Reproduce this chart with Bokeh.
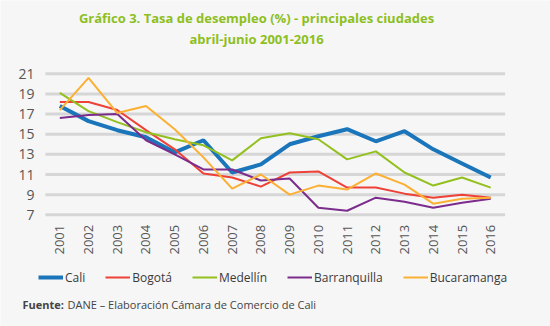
from bokeh.plotting import figure
from bokeh.models import Range1d, Label, Legend, LegendItem, ColumnDataSource
from bokeh.core.properties import value
from bokeh.embed import file_html
from bokeh.resources import INLINE
import math

years = list(range(2001, 2017))
cali = [17.8, 16.3, 15.4, 14.7, 13.2, 14.4, 11.2, 12.0, 14.0, 14.8, 15.5, 14.3, 15.3, 13.5, 12.1, 10.7]
bogota = [18.2, 18.2, 17.4, 15.4, 13.5, 11.1, 10.7, 9.8, 11.2, 11.3, 9.7, 9.7, 9.1, 8.7, 9.0, 8.7]
medellin = [19.1, 17.3, 16.2, 15.2, 14.5, 13.9, 12.4, 14.6, 15.1, 14.5, 12.5, 13.3, 11.2, 9.9, 10.7, 9.7]
barranquilla = [16.6, 16.9, 17.0, 14.4, 13.0, 11.5, 11.5, 10.4, 10.6, 7.7, 7.4, 8.7, 8.3, 7.7, 8.2, 8.6]
bucaramanga = [17.4, 20.6, 17.1, 17.8, 15.5, 12.7, 9.6, 11.0, 9.0, 9.9, 9.5, 11.1, 10.0, 8.1, 8.6, 8.7]
y_ticks = [7, 9, 11, 13, 15, 17, 19, 21]
x_labels = [str(y) for y in years]
y_labels = [str(t) for t in y_ticks]

series = [
    ("Cali", cali, "#1b75bb", 4),
    ("Bogotá", bogota, "#ee4137", 2),
    ("Medellín", medellin, "#93c01f", 2),
    ("Barranquilla", barranquilla, "#7b2c8c", 2),
    ("Bucaramanga", bucaramanga, "#fbb033", 2),
]

BG = "#f6f6f6"
FONT = "Open Sans"

# the plotting frame covers the whole page; ranges set so that the grid sits where the reference has it
p = figure(width=550, height=326, x_range=Range1d(1998.936, 2018.08), y_range=Range1d(-4.094, 28.279),
           output_backend="svg", toolbar_location=None, min_border=0,
           x_axis_type=None, y_axis_type=None, title=None)
p.background_fill_color = BG
p.border_fill_color = BG
p.outline_line_color = None
p.grid.visible = False

# horizontal gridlines at the y ticks, spanning the year bands
x_lo = years[0] - 0.5
x_hi = years[-1] + 0.5
p.segment(x0=[x_lo] * len(y_ticks), x1=[x_hi] * len(y_ticks), y0=y_ticks, y1=y_ticks,
          line_color="#d6d6d6", line_width=3)

# y tick labels
p.text(x=[x_lo] * len(y_ticks), y=y_ticks, text=y_labels, x_offset=-11,
       text_align="right", text_baseline="middle", text_font=value(FONT),
       text_font_size="14px", text_color="#555555")

# x tick labels (rotated)
p.text(x=years, y=[y_ticks[0]] * len(years), text=x_labels, y_offset=10, angle=math.pi / 2,
       text_align="right", text_baseline="middle", text_font=value(FONT),
       text_font_size="13px", text_color="#555555")

items = []
for name, vals, color, w in series:
    r = p.line(years, vals, line_color=color, line_width=w)
    items.append(LegendItem(label=name, renderers=[r]))

legend = Legend(items=items, orientation="horizontal", location=(38, 39),
                glyph_width=25, glyph_height=20, label_height=20, label_standoff=2, spacing=20,
                padding=0, margin=0, border_line_color=None, background_fill_alpha=0,
                label_text_font=FONT, label_text_font_size="12px", label_text_color="#3a3a3a")
p.add_layout(legend, "center")

title_color = "#8dbf1f"
p.add_layout(Label(x=256, y=309, x_units="screen", y_units="screen",
                   text="Gráfico 3. Tasa de desempleo (%) - principales ciudades",
                   text_align="center", text_baseline="middle", text_font=FONT,
                   text_font_size="13px", text_font_style="bold", text_color=title_color))
p.add_layout(Label(x=256, y=288, x_units="screen", y_units="screen",
                   text="abril-junio 2001-2016",
                   text_align="center", text_baseline="middle", text_font=FONT,
                   text_font_size="13px", text_font_style="bold", text_color=title_color))
p.add_layout(Label(x=22, y=22, x_units="screen", y_units="screen", text="Fuente:",
                   text_align="left", text_baseline="middle", text_font=FONT,
                   text_font_size="11px", text_font_style="bold", text_color="#444444"))
p.add_layout(Label(x=67, y=22, x_units="screen", y_units="screen",
                   text="DANE – Elaboración Cámara de Comercio de Cali",
                   text_align="left", text_baseline="middle", text_font=FONT,
                   text_font_size="11px", text_color="#444444"))

open("out.html", "w").write(file_html(p, INLINE))
